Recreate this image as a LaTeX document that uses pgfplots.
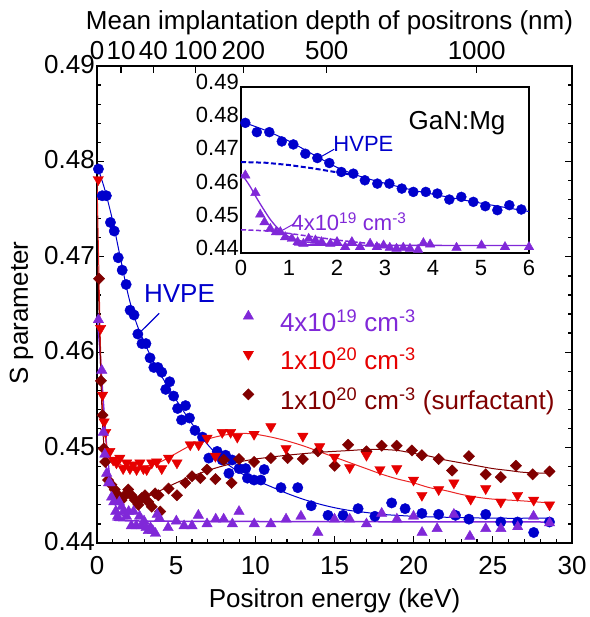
\documentclass[border=0pt]{standalone}
\usepackage{pgfplots}
\usepackage{pgfplotstable}
\pgfplotsset{compat=1.18}
\usepackage{fontspec}
\setmainfont{Liberation Sans}
\definecolor{cblue}{RGB}{0,0,204}
\definecolor{cpurple}{RGB}{128,40,216}
\definecolor{cred}{RGB}{230,0,0}
\definecolor{cdark}{RGB}{128,0,0}
\newcommand{\fs}{\fontsize{26}{31}\selectfont}
\newcommand{\fsi}{\fontsize{22}{26}\selectfont}

\pgfplotstableread{
x y
0.09 0.4792
0.33 0.4764
0.59 0.4764
0.85 0.4736
1.09 0.4727
1.34 0.4699
1.59 0.4686
1.84 0.4671
2.09 0.4644
2.34 0.4639
2.58 0.4619
2.84 0.4609
3.09 0.4609
3.35 0.4594
3.59 0.4584
3.85 0.4584
4.09 0.4579
4.34 0.4561
4.59 0.4569
4.84 0.4554
5.09 0.4541
5.34 0.4529
5.59 0.4544
5.84 0.4531
6.19 0.4518
6.66 0.4511
7.06 0.4489
7.59 0.4496
7.91 0.4487
8.12 0.4492
8.33 0.4473
8.54 0.4487
8.97 0.4478
9.39 0.4478
9.50 0.4468
9.92 0.4466
10.35 0.4466
10.56 0.4477
11.62 0.4458
12.68 0.4458
13.53 0.4439
14.59 0.4429
15.54 0.4429
16.49 0.4436
17.55 0.4428
18.61 0.4442
19.46 0.4436
20.52 0.4431
21.58 0.4430
22.64 0.4429
23.49 0.4425
24.55 0.4430
25.50 0.4422
26.56 0.4422
27.58 0.4411
28.58 0.4422
}\hvpe

\pgfplotstableread{
x y
0.09 0.4634
0.30 0.4581
0.40 0.4516
0.49 0.4493
0.61 0.4473
0.73 0.4463
0.82 0.4463
0.92 0.4448
1.06 0.4443
1.18 0.4433
1.30 0.4428
1.41 0.4443
1.55 0.4438
1.68 0.4433
1.86 0.4428
2.00 0.4433
2.17 0.4418
2.31 0.4433
2.48 0.4418
2.69 0.4428
2.83 0.4418
2.97 0.4423
3.10 0.4416
3.24 0.4413
3.38 0.4416
3.52 0.4413
3.69 0.4410
3.80 0.4430
3.94 0.4426
4.49 0.4416
5.01 0.4423
5.50 0.4418
6.00 0.4418
6.40 0.4429
6.95 0.4420
7.50 0.4425
8.00 0.4425
8.55 0.4420
8.97 0.4433
9.93 0.4420
10.98 0.4420
11.94 0.4425
12.88 0.4428
13.95 0.4411
15.00 0.4425
15.96 0.4425
17.02 0.4420
17.98 0.4431
18.94 0.4425
19.99 0.4428
20.53 0.4411
21.48 0.4415
22.54 0.4430
23.55 0.4407
24.55 0.4415
25.51 0.4415
26.57 0.4417
27.57 0.4428
28.58 0.4421
}\mgfour

\pgfplotstableread{
x y
0.08 0.4781
0.23 0.4625
0.35 0.4555
0.45 0.4527
0.55 0.4516
0.81 0.4496
1.02 0.4487
1.23 0.4484
1.44 0.4489
1.65 0.4478
1.87 0.4484
2.08 0.4478
2.29 0.4482
2.50 0.4477
2.71 0.4484
2.93 0.4478
3.14 0.4477
3.46 0.4484
3.77 0.4485
4.09 0.4478
4.52 0.4489
5.05 0.4484
5.89 0.4503
6.42 0.4503
6.95 0.4510
7.48 0.4491
7.91 0.4516
8.44 0.4516
8.86 0.4511
9.92 0.4514
10.98 0.4522
11.94 0.4499
13.00 0.4512
14.06 0.4501
15.01 0.4490
15.96 0.4479
17.02 0.4492
17.87 0.4477
18.93 0.4478
19.99 0.4466
20.52 0.4450
21.58 0.4456
22.54 0.4463
23.60 0.4446
24.55 0.4457
25.50 0.4443
26.56 0.4450
27.58 0.4445
28.58 0.4440
}\mgone

\pgfplotstableread{
x y
0.13 0.4677
0.25 0.4570
0.35 0.4534
0.42 0.4499
0.52 0.4485
0.70 0.4466
0.91 0.4461
1.12 0.4456
1.34 0.4450
1.55 0.4445
1.76 0.4450
1.97 0.4456
2.18 0.4450
2.40 0.4445
2.61 0.4440
2.82 0.4447
3.03 0.4450
3.24 0.4443
3.46 0.4438
3.67 0.4452
3.88 0.4450
3.99 0.4433
4.52 0.4457
5.05 0.4450
5.58 0.4463
6.00 0.4470
6.53 0.4468
6.95 0.4477
7.48 0.4467
8.01 0.4487
8.50 0.4463
8.97 0.4488
9.92 0.4485
10.98 0.4489
12.04 0.4489
13.00 0.4488
13.95 0.4496
15.01 0.4481
15.86 0.4503
17.02 0.4496
17.98 0.4502
18.93 0.4502
19.89 0.4497
20.52 0.4492
21.58 0.4488
22.43 0.4476
23.49 0.4491
24.55 0.4472
25.50 0.4469
26.46 0.4481
27.52 0.4472
28.58 0.4475
}\mgsurf

\pgfplotstableread{
x y
0 0.4796
0.5 0.4770
1 0.4737
1.5 0.4697
2 0.4658
2.5 0.4630
3 0.4610
3.5 0.4592
4 0.4577
5 0.4550
6 0.4525
7 0.4503
8 0.4486
9 0.4474
10 0.4466
11 0.4459
12 0.4452
13 0.4446
14 0.4441
15 0.4437
16 0.4434
17 0.4432
18 0.4430
20 0.4428
22 0.4427
25 0.4426
28.6 0.4426
}\fitblue

\pgfplotstableread{
x y
0 0.4638
0.1 0.4620
0.2 0.4598
0.3 0.4572
0.4 0.4548
0.5 0.4525
0.6 0.4503
0.7 0.4485
0.8 0.4470
0.9 0.4458
1.0 0.4449
1.2 0.4438
1.4 0.4432
1.7 0.4428
2 0.4426
3 0.4423
28.6 0.4422
}\fitpurple

\pgfplotstableread{
x y
0 0.4782
0.1 0.4700
0.2 0.4620
0.3 0.4560
0.4 0.4527
0.6 0.4503
0.8 0.4492
1 0.4487
1.5 0.4482
2 0.4480
3 0.4480
4 0.4485
5 0.4494
6 0.4503
7 0.4509
8 0.4513
9 0.4515
10 0.4514
11 0.4511
12 0.4507
13 0.4502
14 0.4496
15 0.4490
16 0.4484
17 0.4478
18 0.4472
19 0.4467
20 0.4463
21 0.4458
22 0.4455
23 0.4451
24 0.4448
25 0.4446
26 0.4445
27 0.4444
28.6 0.4442
}\fitred

\pgfplotstableread{
x y
0.05 0.4690
0.1 0.4660
0.2 0.4600
0.3 0.4545
0.4 0.4510
0.6 0.4478
0.8 0.4465
1 0.4458
1.5 0.4450
2 0.4447
3 0.4448
4 0.4455
5 0.4463
6 0.4470
7 0.4476
8 0.4481
9 0.4485
10 0.4488
12 0.4492
14 0.4495
16 0.4497
17 0.4498
18 0.4498
19 0.4497
20 0.4494
21 0.4491
22 0.4487
23 0.4484
24 0.4481
25 0.4478
26 0.4476
27 0.4474
28.6 0.4473
}\fitdark

\pgfplotstableread{
x y
0 0.4674
0.5 0.4672
1 0.4665
1.5 0.4655
2 0.4643
2.3 0.4636
}\dashblue

\pgfplotstableread{
x y
0 0.4470
0.5 0.4467
1 0.4459
1.5 0.4449
2 0.4439
2.5 0.4431
3 0.4425
}\dashpurple

\begin{document}
\begin{tikzpicture}
\path[use as bounding box] (-97pt,-74pt) rectangle (492pt,543pt);
% main axis
\begin{axis}[
 at={(0pt,0pt)}, anchor=south west, scale only axis,
 width=475pt, height=477pt,
 xmin=0, xmax=30, ymin=0.44, ymax=0.49,
 xtick={0,5,10,15,20,25,30},
 ytick={0.44,0.45,0.46,0.47,0.48,0.49},
 minor x tick num=4, minor y tick num=4,
 xtick pos=lower, ytick pos=both, yticklabel pos=lower,
 tick align=inside, major tick length=7pt, minor tick length=4pt,
 axis line style={line width=1.6pt},
 every tick/.append style={line width=1.3pt, black},
 tick label style={font=\fs},
 /pgf/number format/assume math mode=true,
 yticklabel style={/pgf/number format/.cd, fixed, fixed zerofill, precision=2, /tikz/.cd, inner xsep=2pt, yshift=1.5pt},
 xticklabel style={inner ysep=0pt, yshift=-13pt},
 xlabel={Positron energy (keV)}, ylabel={S parameter},
 label style={font=\fs},
 xlabel style={at={(axis description cs:0.5,0)}, anchor=base, inner sep=0pt, yshift=-64pt},
 ylabel style={at={(axis description cs:-0.1453,0.482)}, anchor=base, inner sep=0pt},
 legend style={at={(axis cs:9.19,0.46442)}, anchor=north west, draw=none, fill=none,
   font=\fs, row sep=13pt, column sep=26pt, inner sep=0pt,
   nodes={inner sep=0pt, text height=19pt, text depth=6pt}},
 legend cell align=left,
 legend image code/.code={\draw[#1] plot coordinates {(0pt,9pt)};},
]
\addplot[cblue, line width=1pt, smooth, forget plot] table {\fitblue};
\addplot[cpurple, line width=1.5pt, smooth, forget plot] table {\fitpurple};
\addplot[cred!85!white, line width=1pt, smooth, forget plot] table {\fitred};
\addplot[cdark, line width=1pt, smooth, forget plot] table {\fitdark};
\addplot[only marks, mark=*, mark size=5.2pt, cblue, forget plot] table {\hvpe};
\addplot[only marks, mark=square*, mark size=4pt, mark options={rotate=45}, cdark, forget plot] table {\mgsurf};
\addplot[only marks, mark=triangle*, mark size=6pt, mark options={rotate=180}, cred, forget plot] table {\mgone};
\addplot[only marks, mark=triangle*, mark size=6pt, cpurple, forget plot] table {\mgfour};
\addlegendimage{only marks, mark=triangle*, mark size=6pt, cpurple}
\addlegendentry{\textcolor{cpurple}{4x10\textsuperscript{19} cm\textsuperscript{-3}}}
\addlegendimage{only marks, mark=triangle*, mark size=6pt, mark options={rotate=180}, cred}
\addlegendentry{\textcolor{cred}{1x10\textsuperscript{20} cm\textsuperscript{-3}}}
\addlegendimage{only marks, mark=square*, mark size=4pt, mark options={rotate=45}, cdark}
\addlegendentry{\textcolor{cdark}{1x10\textsuperscript{20} cm\textsuperscript{-3} (surfactant)}}
\node[font=\fs, text=cblue] at (axis cs:5.21,0.4661) {HVPE};
\draw[cblue, line width=1.2pt] (axis cs:3.93,0.46408) -- (axis cs:2.82,0.46225);
\end{axis}
% top axis
\begin{axis}[
 at={(0pt,0pt)}, anchor=south west, scale only axis,
 width=475pt, height=477pt,
 xmin=0, xmax=30, ymin=0, ymax=1,
 axis x line*=top, axis y line=none,
 xtick={0,1.516,3.556,6.23,9.24,14.51,23.98},
 xticklabels={0,10,40,100,200,500,1000},
 tick align=inside, major tick length=7pt,
 axis line style={line width=1.6pt},
 every tick/.append style={line width=1.3pt, black},
 xticklabel style={font=\fs, inner ysep=0pt, yshift=6pt},
 xlabel={Mean implantation depth of positrons (nm)},
 xlabel style={font=\fs, at={(axis description cs:0.5,1)}, anchor=base, inner sep=0pt, yshift=36pt, xshift=-5pt},
]
\end{axis}
% inset
\begin{axis}[
 at={(144pt,290pt)}, anchor=south west, scale only axis,
 width=288pt, height=166pt,
 xmin=0, xmax=6, ymin=0.44, ymax=0.49,
 xtick={0,1,2,3,4,5,6},
 ytick={0.44,0.45,0.46,0.47,0.48,0.49},
 axis background/.style={fill=white},
 major tick length=0pt,
 axis line style={line width=1.3pt},
 tick label style={font=\fsi},
 /pgf/number format/assume math mode=true,
 yticklabel style={/pgf/number format/.cd, fixed, fixed zerofill, precision=2, /tikz/.cd, inner xsep=2pt, yshift=5pt},
 xticklabel style={inner ysep=0pt, yshift=-7pt},
]
\addplot[cblue, line width=1pt, smooth] table {\fitblue};
\addplot[cpurple, line width=1.3pt, smooth] table {\fitpurple};
\addplot[cblue, line width=2pt, dash pattern=on 5pt off 2.5pt] table {\dashblue};
\addplot[cpurple, line width=1.5pt, dash pattern=on 5pt off 2.5pt] table {\dashpurple};
\addplot[only marks, mark=*, mark size=5pt, cblue, restrict x to domain=0:6.05] table {\hvpe};
\addplot[only marks, mark=triangle*, mark size=5.5pt, cpurple, restrict x to domain=0:6.05] table {\mgfour};
\node[font=\fs] at (axis cs:4.5,0.4792) {GaN:Mg};
\node[font=\fsi, text=cblue] at (axis cs:2.55,0.4730) {HVPE};
\draw[cblue, line width=1pt] (axis cs:1.61,0.46853) -- (axis cs:1.94,0.47124);
\node[font=\fsi, text=cpurple] at (axis cs:2.25,0.44943) {4x10\textsuperscript{19} cm\textsuperscript{-3}};
\draw[cpurple, line width=1pt] (axis cs:0.81,0.44642) -- (axis cs:1.125,0.44895);
\end{axis}
\end{tikzpicture}
\end{document}
